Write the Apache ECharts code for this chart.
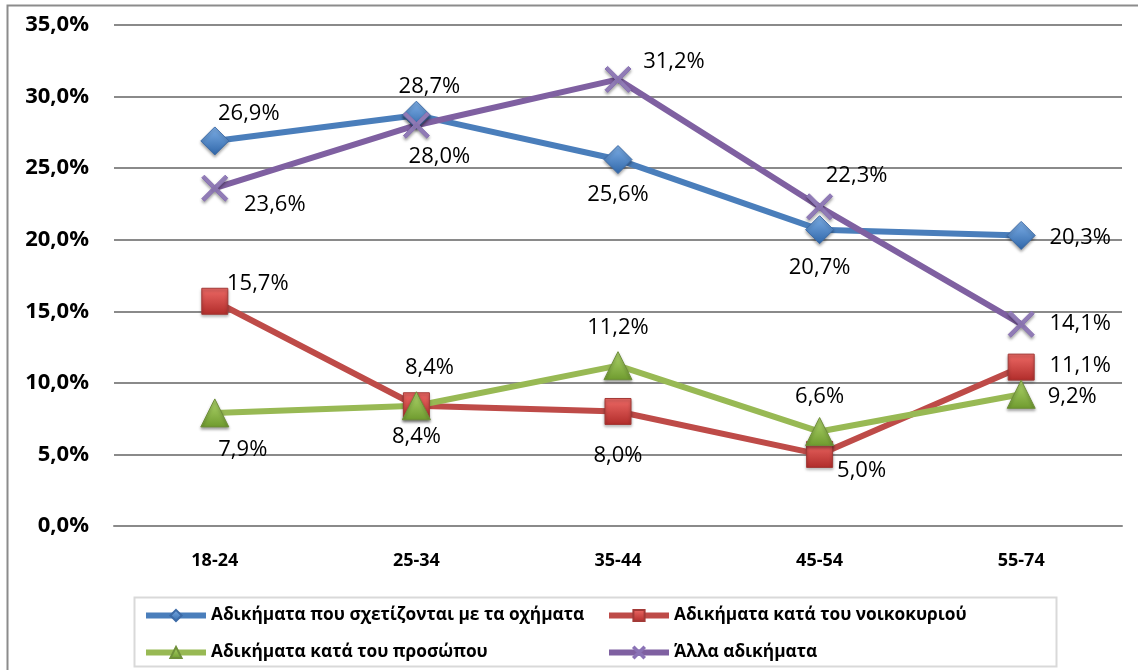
<!DOCTYPE html>
<html>
<head>
<meta charset="utf-8">
<script src="https://cdn.jsdelivr.net/npm/echarts@6/dist/echarts.min.js"></script>
<style>
  html, body { margin: 0; padding: 0; background: #fff; }
  #chart { width: 1138px; height: 670px; }
</style>
</head>
<body>
<div id="chart"></div>
<script>
const categories = ["18-24", "25-34", "35-44", "45-54", "55-74"];
const yTicks = [0, 5, 10, 15, 20, 25, 30, 35];

const vehicleName = "Αδικήματα που σχετίζονται με τα οχήματα";
const householdName = "Αδικήματα κατά του νοικοκυριού";
const personName = "Αδικήματα κατά του προσώπου";
const otherName = "Άλλα αδικήματα";

const vehicleValues = [26.9, 28.7, 25.6, 20.7, 20.3];
const householdValues = [15.7, 8.4, 8.0, 5.0, 11.1];
const personValues = [7.9, 8.4, 11.2, 6.6, 9.2];
const otherValues = [23.6, 28.0, 31.2, 22.3, 14.1];

// label offsets from the marker centre, in pixels (layout only)
const vehicleOffsets = [[34, -27], [13, -28], [0, 35], [0, 38], [59, 2]];
const householdOffsets = [[43, -18], [13, -38], [0, 44], [42, 16], [59, -1]];
const personOffsets = [[28, 37], [0, 31], [0, -38], [0, -35], [51, 2]];
const otherOffsets = [[60, 17], [23, 32], [56, -18], [37, -31], [59, 0]];

const FONT = "Open Sans";
const pct = (v) => v.toFixed(1).replace(".", ",") + "%";

const chart = echarts.init(document.getElementById("chart"), null, { renderer: "canvas" });

function grad(top, bottom) {
  return new echarts.graphic.LinearGradient(0, 0, 0, 1, [
    { offset: 0, color: top },
    { offset: 1, color: bottom },
  ]);
}

const xPath = "path://M0,1 L1,0 L10,9 L9,10 Z M9,0 L10,1 L1,10 L0,9 Z";

function makeSeries(name, values, offsets, color, symbol, size, fill, border) {
  return {
    name: name,
    type: "line",
    data: values.map((v, i) => ({ value: v, label: { offset: offsets[i] } })),
    symbol: symbol,
    symbolSize: size,
    lineStyle: { color: color, width: 6 },
    itemStyle: {
      color: fill,
      borderColor: border,
      borderWidth: 1,
      shadowBlur: 3,
      shadowColor: "rgba(0,0,0,0.35)",
      shadowOffsetY: 2,
    },
    label: {
      show: true,
      position: "inside",
      formatter: (p) => pct(p.value),
      color: "#000",
      fontFamily: FONT,
      fontSize: 22,
    },
    emphasis: { disabled: true },
    z: 3,
  };
}

const legendBase = {
  orient: "vertical",
  top: 607,
  padding: 0,
  itemWidth: 60,
  itemHeight: 14,
  itemGap: 20,
  lineStyle: { width: 6 },
  textStyle: { fontFamily: FONT, fontWeight: "bold", fontSize: 17.3, color: "#000" },
};

const option = {
  animation: false,
  backgroundColor: "#fff",
  grid: { left: 114, right: 16, top: 25, bottom: 144 },
  xAxis: {
    type: "category",
    data: categories,
    boundaryGap: true,
    axisLine: { show: true, lineStyle: { color: "#8a8a8a", width: 2 } },
    axisTick: { show: false },
    axisLabel: {
      margin: 26,
      color: "#000",
      fontFamily: FONT,
      fontWeight: "bold",
      fontSize: 18,
    },
  },
  yAxis: {
    type: "value",
    min: yTicks[0],
    max: yTicks[yTicks.length - 1],
    interval: 5,
    axisLine: { show: false },
    axisTick: { show: false },
    splitLine: { lineStyle: { color: "#8a8a8a", width: 2 } },
    axisLabel: {
      margin: 25,
      color: "#000",
      fontFamily: FONT,
      fontWeight: "bold",
      fontSize: 22,
      formatter: (v) => pct(v),
    },
  },
  legend: [
    Object.assign({}, legendBase, { left: 143, data: [vehicleName, personName] }),
    Object.assign({}, legendBase, { left: 606, data: [householdName, otherName] }),
  ],
  graphic: [
    {
      type: "rect",
      shape: { x: 7.5, y: 5.5, width: 1150, height: 680 },
      style: { fill: "none", stroke: "#8c8c8c", lineWidth: 2 },
      silent: true,
      z: -1,
    },
    {
      type: "rect",
      shape: { x: 134.5, y: 597.5, width: 922, height: 69 },
      style: { fill: "none", stroke: "#d9d9d9", lineWidth: 2 },
      silent: true,
      z: -1,
    },
  ],
  series: [
    makeSeries(vehicleName, vehicleValues, vehicleOffsets, "#4a7ebb", "diamond", 28,
      grad("#7fb0e8", "#2f66a8"), "#3c6aa6"),
    makeSeries(householdName, householdValues, householdOffsets, "#be4b48", "rect", 26,
      grad("#ee6a66", "#b02c2a"), "#a33a37"),
    makeSeries(personName, personValues, personOffsets, "#98b954", "triangle", 28,
      grad("#b2d86e", "#6e9a2e"), "#6f8f3a"),
    makeSeries(otherName, otherValues, otherOffsets, "#7f60a1", xPath, 26,
      "#9b85c2", "#8a72b5"),
  ],
};

chart.setOption(option);
</script>
</body>
</html>
